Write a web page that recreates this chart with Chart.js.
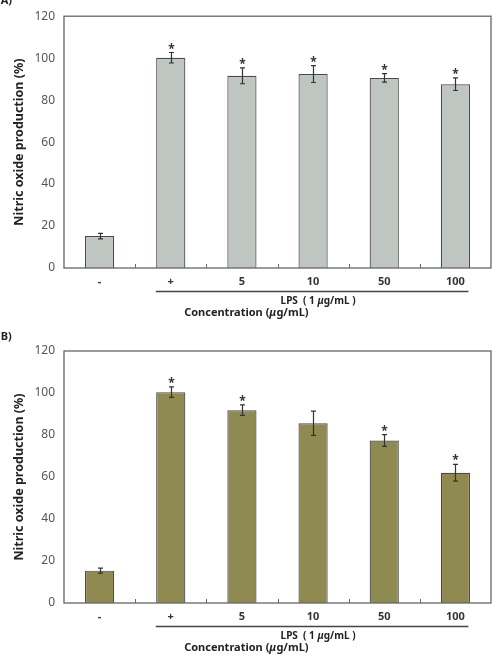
<!DOCTYPE html>
<html>
<head>
<meta charset="utf-8">
<script src="https://cdn.jsdelivr.net/npm/chart.js@4"></script>
<style>
body{margin:0;background:#fff;}
.panel{width:498px;height:330px;}
</style>
</head>
<body>
<div class="panel"><canvas id="chartA" width="498" height="330"></canvas></div>
<div class="panel"><canvas id="chartB" width="498" height="330"></canvas></div>
<script>
var labels = ['-', '+', '5', '10', '50', '100'];
var valuesA = [15.2, 100.2, 91.6, 92.4, 90.6, 87.6];
var errorsA = [1.3, 2.5, 3.8, 4.0, 2.0, 3.0];
var starsA = [false, true, true, true, true, true];
var valuesB = [15.4, 100.4, 91.8, 85.6, 77.4, 62.0];
var errorsB = [1.2, 2.5, 2.5, 5.8, 2.8, 4.0];
var starsB = [false, true, true, false, true, true];
var yMin = 0, yMax = 120, yStep = 20;

var fontName = '"Noto Sans", "DejaVu Sans", sans-serif';

function extrasPlugin(panel, values, errors, stars){
    return {
        id: 'extras' + panel,
        afterDatasetsDraw: function(chart){
            var ctx = chart.ctx, a = chart.chartArea, x = chart.scales.x, y = chart.scales.y;
            ctx.save();
            // frame
            ctx.strokeStyle = '#666';
            ctx.lineWidth = 1.3;
            ctx.strokeRect(a.left, a.top, a.right - a.left, a.bottom - a.top);
            // small ticks between categories
            var step = x.getPixelForValue(1) - x.getPixelForValue(0);
            ctx.lineWidth = 1;
            for(var i = 1; i < labels.length; i++){
                var bx = Math.round(x.getPixelForValue(i) - step / 2) + 0.5;
                ctx.beginPath();
                ctx.moveTo(bx, a.bottom);
                ctx.lineTo(bx, a.bottom - 4);
                ctx.stroke();
            }
            // error bars + asterisks
            ctx.strokeStyle = '#333';
            ctx.fillStyle = '#333';
            ctx.lineWidth = 1.2;
            ctx.font = 'bold 12px ' + fontName;
            ctx.textAlign = 'center';
            ctx.textBaseline = 'alphabetic';
            values.forEach(function(v, i){
                var cx = Math.round(x.getPixelForValue(i)) + 0.5;
                var top = y.getPixelForValue(v + errors[i]);
                var bot = y.getPixelForValue(v - errors[i]);
                ctx.beginPath();
                ctx.moveTo(cx, top); ctx.lineTo(cx, bot);
                ctx.moveTo(cx - 2.5, top); ctx.lineTo(cx + 2.5, top);
                ctx.moveTo(cx - 2.5, bot); ctx.lineTo(cx + 2.5, bot);
                ctx.stroke();
                if(stars[i]){
                    ctx.fillText('*', cx, top);
                }
            });
            ctx.restore();
        },
        afterDraw: function(chart){
            var ctx = chart.ctx, a = chart.chartArea, x = chart.scales.x;
            ctx.save();
            ctx.fillStyle = '#222';
            // panel label
            ctx.font = 'bold 11px ' + fontName;
            ctx.textAlign = 'left';
            ctx.textBaseline = 'middle';
            ctx.fillText('(' + panel + ')', -3, panel == 'A' ? 1 : 7);
            // y title
            ctx.save();
            ctx.translate(19, (a.top + a.bottom) / 2);
            ctx.rotate(-Math.PI / 2);
            ctx.textAlign = 'center';
            ctx.font = 'bold 12.5px ' + fontName;
            ctx.fillText('Nitric oxide production (%)', 0, 0);
            ctx.restore();
            // LPS bracket line
            var x1 = x.getPixelForValue(1) - 15, x2 = x.getPixelForValue(5) + 13;
            var ly = Math.round(a.bottom + 23) + 0.5;
            ctx.strokeStyle = '#444';
            ctx.lineWidth = 1.5;
            ctx.beginPath();
            ctx.moveTo(x1, ly); ctx.lineTo(x2, ly);
            ctx.stroke();
            // LPS text with italic mu
            drawMixed(ctx, [['LPS  ( 1 ', 'bold 10px '], ['\u03bc', 'italic bold 10px '], ['g/mL )', 'bold 10px ']],
                (x.getPixelForValue(1) + x.getPixelForValue(5)) / 2 + 5, a.bottom + 33);
            drawMixed(ctx, [['Concentration (', 'bold 11px '], ['\u03bc', 'italic bold 11px '], ['g/mL)', 'bold 11px ']],
                a.left + (a.right - a.left) * 0.427, a.bottom + 45);
            ctx.restore();
        }
    };
}

function drawMixed(ctx, parts, cx, cy){
    var total = 0;
    parts.forEach(function(p){ ctx.font = p[1] + fontName; total += ctx.measureText(p[0]).width; });
    var px = cx - total / 2;
    ctx.textAlign = 'left';
    ctx.textBaseline = 'middle';
    parts.forEach(function(p){
        ctx.font = p[1] + fontName;
        ctx.fillText(p[0], px, cy);
        px += ctx.measureText(p[0]).width;
    });
}

function makeChart(id, panel, values, errors, stars, color, padTop, axisH){
    return new Chart(document.getElementById(id), {
        type: 'bar',
        data: {
            labels: labels,
            datasets: [{
                data: values,
                backgroundColor: color,
                borderColor: '#4a4a4a',
                borderWidth: 1.2,
                categoryPercentage: 1,
                barPercentage: 0.41
            }]
        },
        options: {
            responsive: false,
            animation: false,
            layout: {padding: {top: padTop, right: 7, left: 0, bottom: 0}},
            plugins: {legend: {display: false}, tooltip: {enabled: false}},
            scales: {
                x: {
                    grid: {display: false, drawTicks: false},
                    border: {display: false},
                    ticks: {color: '#333', font: {family: fontName, size: 11, weight: 'bold'}, padding: 7},
                    afterFit: function(s){ s.height = axisH; }
                },
                y: {
                    min: yMin, max: yMax,
                    grid: {display: false, drawTicks: false},
                    border: {display: false},
                    ticks: {stepSize: yStep, color: '#555', font: {family: fontName, size: 12}, padding: 9},
                    afterFit: function(s){ s.width = 64; }
                }
            }
        },
        plugins: [extrasPlugin(panel, values, errors, stars)]
    });
}

makeChart('chartA', 'A', valuesA, errorsA, starsA, '#bfc6c1', 16, 62);
makeChart('chartB', 'B', valuesB, errorsB, starsB, '#8f8a52', 21, 57);
</script>
</body>
</html>
